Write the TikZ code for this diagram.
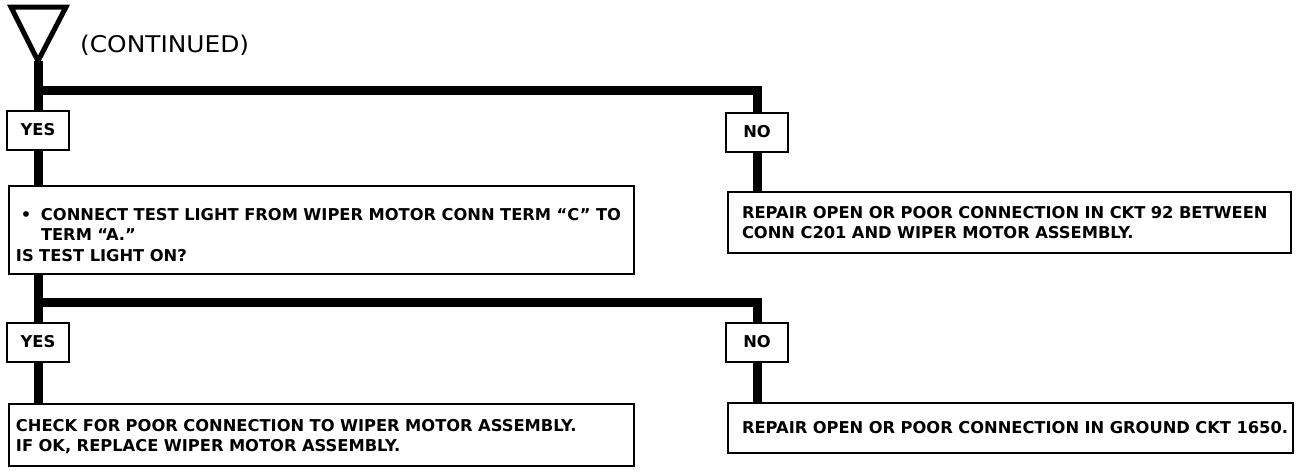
\documentclass[tikz,border=0pt]{standalone}
\usepackage{fontspec}
\setmainfont{DejaVu Sans}
\begin{document}
\begin{tikzpicture}[x=1pt,y=-1pt,
  flow/.style={line width=9pt},
  box/.style={draw, line width=2pt, fill=white, anchor=north west, inner xsep=7pt, inner ysep=0pt,
    align=left, font=\bfseries\fontsize{16.3}{20.5}\selectfont},
  tag/.style={draw, line width=2pt, fill=white, minimum width=62pt, minimum height=39pt, inner sep=0pt,
    font=\bfseries\fontsize{16.3}{19}\selectfont}]
\useasboundingbox (0,0) rectangle (1312,474);
% triangle marker
\draw[line width=5pt, line join=miter] (11,7) -- (66,7) -- (38,61) -- cycle;
\coordinate (apex) at (38,61);
\node[anchor=west, xscale=1.08, transform shape, font=\fontsize{23}{25}\selectfont, inner sep=0pt] (cont) at (80,45) {(CONTINUED)};
% junction points
\coordinate (j1) at (38,90);
\coordinate (j2) at (38,302);
% first decision
\node[tag] (yes1) at (38,130) {YES};
\node[tag] (no1) at (757,132) {NO};
\node[box, minimum width=625pt, minimum height=88pt, text width=611pt] (boxA) at (8,185)
  {\rule{0pt}{22pt}\hspace*{5pt}\makebox[20pt][l]{•}\mbox{CONNECT TEST LIGHT FROM WIPER MOTOR CONN TERM “C” TO}\\
   \hspace*{25pt}TERM “A.”\\
   IS TEST LIGHT ON?};
\node[box, inner xsep=14pt, minimum width=563pt, minimum height=61pt, text width=535pt] (boxB) at (727,191)
  {\mbox{REPAIR OPEN OR POOR CONNECTION IN CKT 92 BETWEEN}\\\mbox{CONN C201 AND WIPER MOTOR ASSEMBLY.}};
% second decision
\node[tag] (yes2) at (38,342) {YES};
\node[tag] (no2) at (757,342) {NO};
\node[box, minimum width=625pt, minimum height=62pt, text width=611pt] (boxC) at (8,403)
  {\rule{0pt}{15pt}\mbox{CHECK FOR POOR CONNECTION TO WIPER MOTOR ASSEMBLY.}\\\mbox{IF OK, REPLACE WIPER MOTOR ASSEMBLY.}};
\node[box, inner xsep=14pt, minimum width=565pt, minimum height=50pt, text width=537pt] (boxD) at (727,402)
  {\mbox{REPAIR OPEN OR POOR CONNECTION IN GROUND CKT 1650.}};
% connectors
\draw[flow] (apex) -- (yes1.north);
\draw[flow] (j1) -| (no1.north);
\draw[flow] (yes1.south) -- (yes1.south |- boxA.north);
\draw[flow] (no1.south) -- (no1.south |- boxB.north);
\draw[flow] (yes2.north |- boxA.south) -- (yes2.north);
\draw[flow] (j2) -| (no2.north);
\draw[flow] (yes2.south) -- (yes2.south |- boxC.north);
\draw[flow] (no2.south) -- (no2.south |- boxD.north);
\end{tikzpicture}
\end{document}
